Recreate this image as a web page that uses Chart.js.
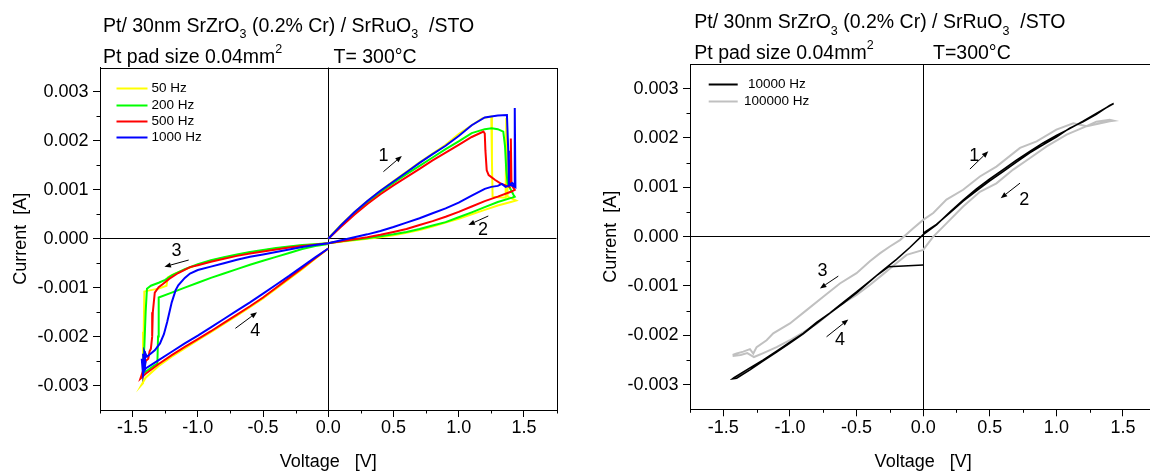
<!DOCTYPE html>
<html>
<head>
<meta charset="utf-8">
<script src="https://cdn.jsdelivr.net/npm/chart.js@4.4.1/dist/chart.umd.min.js"></script>
<style>
html,body{margin:0;padding:0;background:#fff;overflow:hidden;}
#wrap{position:relative;width:1150px;height:474px;overflow:hidden;background:#fff;}
#c1{position:absolute;left:0;top:0;}
#c2{position:absolute;left:590px;top:0;}
</style>
</head>
<body>
<div id="wrap">
<canvas id="c1" width="575" height="474"></canvas>
<canvas id="c2" width="590" height="474"></canvas>
</div>
<script>
// ---------- axis ticks ----------
const voltageTicks = [-1.5, -1.0, -0.5, 0.0, 0.5, 1.0, 1.5];
const currentTicks = [-0.003, -0.002, -0.001, 0, 0.001, 0.002, 0.003];
const voltageMinor = [-1.75, -1.25, -0.75, -0.25, 0.25, 0.75, 1.25, 1.75];
const currentMinor = [-0.0025, -0.0015, -0.0005, 0.0005, 0.0015, 0.0025];

// ---------- left panel series (voltage V, current mA) ----------
const leftLabels = ['50 Hz', '200 Hz', '500 Hz', '1000 Hz'];
const leftColors = ['#FFFF00', '#00FF00', '#FF0000', '#0000FF'];

const v50 = [
  0,0.05,0.1,0.15,0.2,0.3,0.4,0.5,0.6,0.7,0.8,0.9,1.0,1.1,1.18,1.25,
  1.255,1.26,1.3,1.36,1.365,1.37,1.375,1.41,1.44,
  1.4,1.3,1.2,1.1,1.0,0.9,0.8,0.7,0.6,0.5,0.4,0.3,0.2,0.1,0,
  -0.1,-0.2,-0.3,-0.4,-0.5,-0.6,-0.7,-0.8,-0.9,-1.0,-1.1,-1.18,-1.23,-1.24,-1.3,-1.38,-1.41,-1.415,-1.42,-1.43,
  -1.4,-1.3,-1.2,-1.1,-1.0,-0.9,-0.8,-0.7,-0.6,-0.5,-0.4,-0.3,-0.2,-0.1,0
];
const i50 = [
  0,0.15,0.29,0.42,0.54,0.77,0.98,1.18,1.37,1.56,1.74,1.92,2.14,2.32,2.46,2.5,
  1.6,0.86,0.85,0.84,2.45,2.5,0.86,0.82,0.78,
  0.75,0.68,0.59,0.5,0.41,0.33,0.25,0.18,0.12,0.07,0.03,0.0,-0.03,-0.06,-0.09,
  -0.11,-0.14,-0.17,-0.2,-0.24,-0.28,-0.33,-0.39,-0.45,-0.53,-0.63,-0.72,-0.79,-0.96,-1.02,-1.06,-1.08,-1.9,-2.95,-2.98,
  -2.84,-2.6,-2.41,-2.24,-2.07,-1.91,-1.74,-1.57,-1.4,-1.22,-1.02,-0.82,-0.62,-0.41,-0.2
];

const v200 = [
  0,0.1,0.2,0.3,0.4,0.5,0.6,0.7,0.8,0.9,1.0,1.1,1.2,1.253,1.3,1.342,
  1.355,1.365,1.375,1.4,1.42,1.43,
  1.41,1.3,1.2,1.1,1.0,0.9,0.8,0.7,0.6,0.5,0.4,0.3,0.2,0.1,0,
  -0.1,-0.2,-0.3,-0.4,-0.5,-0.6,-0.7,-0.8,-0.9,-1.0,-1.1,-1.2,-1.25,-1.3,-1.36,-1.39,-1.4,-1.41,-1.42,-1.42,
  -1.38,-1.34,-1.31,-1.305,-1.3,
  -1.2,-1.1,-1.0,-0.9,-0.8,-0.7,-0.6,-0.5,-0.4,-0.3,-0.2,-0.1,0
];
const i200 = [
  0,0.27,0.52,0.74,0.95,1.14,1.32,1.49,1.66,1.83,1.99,2.16,2.24,2.26,2.24,2.19,
  1.9,1.4,1.13,1.0,0.9,0.86,
  0.84,0.75,0.645,0.54,0.44,0.34,0.27,0.2,0.14,0.09,0.05,0.01,-0.02,-0.05,-0.09,
  -0.11,-0.13,-0.16,-0.19,-0.23,-0.27,-0.32,-0.38,-0.44,-0.52,-0.62,-0.75,-0.84,-0.9,-0.96,-1.02,-1.5,-2.2,-2.6,-2.75,
  -2.68,-2.6,-2.55,-2.0,-1.2,
  -1.1,-1.0,-0.9,-0.8,-0.71,-0.62,-0.53,-0.45,-0.37,-0.29,-0.21,-0.15,-0.11
];

const v500 = [
  0,0.1,0.2,0.3,0.4,0.5,0.6,0.7,0.8,0.9,1.0,1.1,1.19,
  1.2,1.205,1.215,1.23,1.28,1.32,1.39,1.395,1.4,1.405,1.43,
  1.4,1.3,1.2,1.1,1.0,0.9,0.8,0.7,0.6,0.5,0.4,0.3,0.2,0.1,0,
  -0.1,-0.2,-0.3,-0.4,-0.5,-0.6,-0.7,-0.8,-0.9,-1.0,-1.06,-1.15,-1.22,-1.27,-1.3,-1.33,-1.345,-1.35,-1.36,-1.37,-1.38,-1.4,-1.42,-1.44,
  -1.4,-1.3,-1.2,-1.1,-1.0,-0.9,-0.8,-0.7,-0.6,-0.5,-0.4,-0.3,-0.2,-0.1,0
];
const i500 = [
  0,0.25,0.49,0.71,0.91,1.09,1.26,1.43,1.6,1.76,1.92,2.08,2.19,
  2.15,1.8,1.4,1.3,1.2,1.13,1.06,1.6,2.05,1.1,1.0,
  0.96,0.86,0.77,0.66,0.55,0.45,0.36,0.28,0.2,0.14,0.08,0.03,-0.01,-0.05,-0.09,
  -0.12,-0.15,-0.18,-0.22,-0.26,-0.3,-0.35,-0.41,-0.47,-0.54,-0.58,-0.7,-0.82,-0.93,-0.99,-1.1,-1.5,-2.0,-2.25,-2.3,-2.45,-2.5,-2.7,-2.86,
  -2.76,-2.56,-2.38,-2.21,-2.05,-1.89,-1.72,-1.55,-1.38,-1.2,-1.0,-0.8,-0.6,-0.4,-0.2
];

const v1000 = [
  0,0.05,0.1,0.2,0.3,0.4,0.5,0.6,0.7,0.8,0.9,1.0,1.1,1.2,1.3,1.37,
  1.38,1.385,1.41,1.43,1.43,1.435,1.4,1.36,1.33,1.3,
  1.25,1.2,1.1,1.0,0.9,0.8,0.7,0.6,0.5,0.4,0.3,0.2,0.1,0,
  -0.1,-0.2,-0.3,-0.4,-0.5,-0.6,-0.7,-0.8,-0.9,-1.0,-1.06,-1.1,-1.15,-1.17,-1.2,-1.235,-1.26,-1.29,-1.33,-1.39,
  -1.41,-1.405,-1.42,-1.41,-1.43,-1.42,-1.4,-1.41,-1.4,
  -1.3,-1.2,-1.1,-1.0,-0.9,-0.8,-0.7,-0.6,-0.5,-0.4,-0.3,-0.2,-0.1,0
];
const i1000 = [
  0,0.14,0.28,0.54,0.77,0.98,1.17,1.36,1.55,1.73,1.9,2.1,2.32,2.48,2.52,2.53,
  1.8,1.1,1.14,1.1,2.67,1.05,1.1,1.06,1.12,1.08,
  1.06,1.02,0.88,0.74,0.62,0.52,0.42,0.33,0.24,0.16,0.09,0.03,-0.03,-0.09,
  -0.13,-0.17,-0.22,-0.27,-0.32,-0.37,-0.43,-0.5,-0.57,-0.64,-0.71,-0.8,-0.95,-1.05,-1.3,-1.7,-1.95,-2.14,-2.28,-2.41,
  -2.3,-2.6,-2.35,-2.72,-2.45,-2.78,-2.5,-2.7,-2.65,
  -2.48,-2.31,-2.14,-1.98,-1.81,-1.64,-1.47,-1.3,-1.12,-0.94,-0.76,-0.57,-0.38,-0.2
];

// ---------- right panel series (voltage V, current mA) ----------
const rightLabels = ['10000 Hz', '100000 Hz'];
const rightColors = ['#000000', '#C0C0C0'];

const v10k = [
  0,-0.26,-0.35,-0.5,-0.6,-0.7,-0.8,-0.9,-1.0,-1.1,-1.2,-1.3,-1.4,-1.43,
  -1.42,-1.3,-1.2,-1.1,-1.0,-0.9,-0.8,-0.7,-0.6,-0.5,-0.4,-0.3,-0.2,-0.1,0,0.1,0.2,0.3,0.4,0.5,0.6,0.7,0.8,0.9,1.0,1.1,1.2,1.3,1.43,
  1.4,1.3,1.2,1.1,1.0,0.9,0.8,0.7,0.6,0.5,0.4,0.3,0.2,0.1,0
];
const i10k = [
  -0.575,-0.61,-0.79,-1.14,-1.35,-1.55,-1.76,-1.97,-2.16,-2.34,-2.52,-2.7,-2.87,-2.88,
  -2.86,-2.66,-2.5,-2.32,-2.14,-1.96,-1.74,-1.55,-1.33,-1.12,-0.9,-0.68,-0.46,-0.22,0.04,0.24,0.5,0.74,0.97,1.17,1.36,1.55,1.73,1.9,2.05,2.19,2.34,2.5,2.7,
  2.66,2.48,2.33,2.2,2.02,1.86,1.7,1.51,1.32,1.13,0.93,0.72,0.48,0.25,0.07
];

const v100k = [
  -1.43,-1.4,-1.35,-1.3,-1.275,-1.25,-1.175,-1.125,-1.0,-0.875,-0.75,-0.625,-0.5,-0.4,-0.325,-0.25,-0.174,-0.074,0,0.076,0.175,0.3,0.426,0.55,0.727,0.852,1.0,1.127,1.227,1.3,1.4,1.43,
  1.4,1.227,1.077,0.927,0.8,0.676,0.55,0.426,0.3,0.175,0.076,0,-0.124,-0.22,-0.3,-0.4,-0.5,-0.625,-0.7,-0.8,-0.9,-1.0,-1.1,-1.2,-1.27,-1.32,-1.37,-1.43
];
const i100k = [
  -2.4,-2.37,-2.33,-2.28,-2.37,-2.24,-2.1,-1.96,-1.76,-1.49,-1.22,-0.95,-0.74,-0.5,-0.34,-0.2,-0.07,0.17,0.34,0.48,0.75,0.95,1.22,1.42,1.8,1.93,2.17,2.3,2.24,2.33,2.37,2.35,
  2.34,2.24,2.07,1.83,1.59,1.36,1.08,0.91,0.61,0.27,0.0,-0.27,-0.37,-0.58,-0.76,-0.98,-1.18,-1.39,-1.55,-1.77,-1.94,-2.1,-2.24,-2.36,-2.44,-2.36,-2.4,-2.42
];

// ---------- arrow annotations (voltage V, current mA) ----------
const leftNoteText = ['1', '2', '3', '4'];
const leftNotePos  = [[0.423, 1.70], [1.187, 0.18], [-1.164, -0.25], [-0.559, -1.88]];
const leftArrowFrom = [[0.423, 1.371], [1.227, 0.465], [-1.070, -0.435], [-0.712, -1.831]];
const leftArrowTo   = [[0.564, 1.692], [1.074, 0.281], [-1.256, -0.572], [-0.546, -1.504]];

const rightNoteText = ['1', '2', '3', '4'];
const rightNotePos  = [[0.384, 1.63], [0.758, 0.746], [-0.755, -0.69], [-0.625, -2.1]];
const rightArrowFrom = [[0.351, 1.37], [0.727, 1.085], [-0.637, -0.80], [-0.725, -2.03]];
const rightArrowTo   = [[0.489, 1.73], [0.582, 0.78], [-0.775, -1.05], [-0.562, -1.68]];

// ---------- helpers ----------
const FONT = '"Liberation Sans", Arial, Helvetica, sans-serif';
Chart.defaults.font.family = FONT;
Chart.defaults.color = '#000';

function pts(v, i) { return v.map((x, k) => ({ x: x, y: i[k] / 1000 })); }

function framePlugin() {
  return {
    id: 'frame',
    afterDatasetsDraw(chart) {
      const ctx = chart.ctx, a = chart.chartArea;
      const sx = chart.scales.x, sy = chart.scales.y;
      ctx.save();
      ctx.strokeStyle = '#000';
      ctx.lineWidth = 1;
      ctx.strokeRect(Math.round(a.left) + 0.5, Math.round(a.top) + 0.5,
                     Math.round(a.right) - Math.round(a.left), Math.round(a.bottom) - Math.round(a.top));
      ctx.beginPath();
      voltageMinor.forEach(v => {
        const px = Math.round(sx.getPixelForValue(v)) + 0.5;
        ctx.moveTo(px, a.bottom); ctx.lineTo(px, a.bottom + 3.5);
      });
      currentMinor.forEach(v => {
        const py = Math.round(sy.getPixelForValue(v)) + 0.5;
        ctx.moveTo(a.left, py); ctx.lineTo(a.left - 3.5, py);
      });
      ctx.stroke();
      ctx.restore();
    }
  };
}

function titlePlugin(cfg) {
  return {
    id: 'titleBlock',
    afterDraw(chart) {
      const ctx = chart.ctx, a = chart.chartArea;
      ctx.save();
      ctx.fillStyle = '#000';
      ctx.textAlign = 'left';
      ctx.textBaseline = 'alphabetic';
      cfg.lines.forEach(line => {
        let x = a.left + line.dx;
        const y = a.top + line.dy;
        line.parts.forEach(p => {
          const small = p[1] !== '';
          ctx.font = (small ? 12.5 : 19.5) + 'px ' + FONT;
          const yy = p[1] === 'sub' ? y + 6.5 : (p[1] === 'sup' ? y - 10 : y);
          ctx.fillText(p[0], x, yy);
          x += ctx.measureText(p[0]).width;
        });
      });
      ctx.restore();
    }
  };
}

function legendPlugin(cfg) {
  return {
    id: 'legendBox',
    afterDraw(chart) {
      const ctx = chart.ctx, a = chart.chartArea;
      ctx.save();
      ctx.font = '13.5px ' + FONT;
      ctx.textBaseline = 'middle';
      ctx.textAlign = 'left';
      chart.data.datasets.forEach((ds, k) => {
        const y = Math.round(a.top + cfg.y0 + cfg.dy * k) + 0.5;
        ctx.strokeStyle = ds.borderColor;
        ctx.lineWidth = 2;
        ctx.beginPath();
        ctx.moveTo(a.left + cfg.x0, y);
        ctx.lineTo(a.left + cfg.x1, y);
        ctx.stroke();
        ctx.fillStyle = '#000';
        ctx.fillText(ds.label, a.left + cfg.tx + (cfg.indent[k] || 0), y);
      });
      ctx.restore();
    }
  };
}

function notesPlugin(texts, pos, from, to) {
  return {
    id: 'notes',
    afterDatasetsDraw(chart) {
      const ctx = chart.ctx, sx = chart.scales.x, sy = chart.scales.y;
      const P = p => [sx.getPixelForValue(p[0]), sy.getPixelForValue(p[1] / 1000)];
      ctx.save();
      ctx.fillStyle = '#000';
      ctx.strokeStyle = '#000';
      ctx.lineWidth = 1;
      ctx.font = '18px ' + FONT;
      ctx.textAlign = 'center';
      ctx.textBaseline = 'middle';
      texts.forEach((t, k) => {
        const c = P(pos[k]);
        ctx.fillText(t, c[0], c[1]);
        const s = P(from[k]), e = P(to[k]);
        const ang = Math.atan2(e[1] - s[1], e[0] - s[0]);
        const L = 6.5, W = 2.6;
        const bx = e[0] - L * Math.cos(ang), by = e[1] - L * Math.sin(ang);
        ctx.beginPath();
        ctx.moveTo(s[0], s[1]);
        ctx.lineTo(bx, by);
        ctx.stroke();
        ctx.beginPath();
        ctx.moveTo(e[0], e[1]);
        ctx.lineTo(bx + W * Math.sin(ang), by - W * Math.cos(ang));
        ctx.lineTo(bx - W * Math.sin(ang), by + W * Math.cos(ang));
        ctx.closePath();
        ctx.fill();
      });
      ctx.restore();
    }
  };
}

function makeChart(id, datasets, lay, extraPlugins) {
  const zeroColor = c => (c.tick && c.tick.value === 0) ? '#000' : 'rgba(0,0,0,0)';
  return new Chart(document.getElementById(id), {
    type: 'scatter',
    data: { datasets: datasets },
    options: {
      responsive: false,
      animation: false,
      events: [],
      layout: { padding: { left: 0, right: lay.padRight, top: lay.top, bottom: 0 } },
      plugins: { legend: { display: false }, tooltip: { enabled: false } },
      scales: {
        x: {
          type: 'linear', min: -1.75, max: 1.75,
          afterBuildTicks: s => { s.ticks = voltageTicks.map(v => ({ value: v })); },
          afterFit: s => { s.height = 474 - lay.bottom; },
          ticks: { callback: v => Number(v).toFixed(1), font: { size: 18, lineHeight: 1 }, color: '#000', padding: 2.5, maxRotation: 0, autoSkip: false },
          grid: { drawOnChartArea: true, color: zeroColor, tickColor: '#000', tickLength: 7, lineWidth: 1 },
          border: { display: true, color: '#000', width: 1 },
          title: { display: true, text: 'Voltage   [V]', font: { size: 18 }, color: '#000', padding: { top: 0, bottom: 1 } }
        },
        y: {
          type: 'linear', min: -0.0035, max: 0.0035,
          afterBuildTicks: s => { s.ticks = currentTicks.map(v => ({ value: v })); },
          afterFit: s => { s.width = 100; },
          ticks: { callback: v => Number(v).toFixed(3), font: { size: 18, lineHeight: 1 }, color: '#000', padding: 4.5, autoSkip: false },
          grid: { drawOnChartArea: true, color: zeroColor, tickColor: '#000', tickLength: 7, lineWidth: 1 },
          border: { display: true, color: '#000', width: 1 },
          title: { display: true, text: 'Current  [A]', font: { size: 18 }, color: '#000', padding: { top: 10, bottom: 0 } }
        }
      }
    },
    plugins: [framePlugin()].concat(extraPlugins)
  });
}

const lineDs = (label, color, data, order, width) => ({
  label: label, data: data, showLine: true, borderColor: color, backgroundColor: color,
  borderWidth: width, pointRadius: 0, tension: 0, order: order
});

// ---------- left chart ----------
makeChart('c1', [
  lineDs(leftLabels[0], leftColors[0], pts(v50, i50), 4, 2),
  lineDs(leftLabels[1], leftColors[1], pts(v200, i200), 3, 2),
  lineDs(leftLabels[2], leftColors[2], pts(v500, i500), 2, 2),
  lineDs(leftLabels[3], leftColors[3], pts(v1000, i1000), 1, 2)
], { padRight: 18.5, top: 67.5, bottom: 410 }, [
  titlePlugin({ lines: [
    { dx: 3, dy: -35.8, parts: [['Pt/ 30nm SrZrO', ''], ['3', 'sub'], [' (0.2% Cr) / SrRuO', ''], ['3', 'sub'], ['  /STO', '']] },
    { dx: 3, dy: -4.8, parts: [['Pt pad size 0.04mm', ''], ['2', 'sup']] },
    { dx: 233.5, dy: -4.8, parts: [['T= 300°C', '']] }
  ] }),
  legendPlugin({ y0: 20.8, dy: 16.35, x0: 16.5, x1: 47.5, tx: 51.5, indent: [0, 0, 0, 0] }),
  notesPlugin(leftNoteText, leftNotePos, leftArrowFrom, leftArrowTo)
]);

// ---------- right chart ----------
makeChart('c2', [
  lineDs(rightLabels[0], rightColors[0], pts(v10k, i10k), 1, 1.6),
  lineDs(rightLabels[1], rightColors[1], pts(v100k, i100k), 2, 2)
], { padRight: 23.7, top: 64, bottom: 409.3 }, [
  titlePlugin({ lines: [
    { dx: 4.3, dy: -35.7, parts: [['Pt/ 30nm SrZrO', ''], ['3', 'sub'], [' (0.2% Cr) / SrRuO', ''], ['3', 'sub'], ['  /STO', '']] },
    { dx: 4.3, dy: -5, parts: [['Pt pad size 0.04mm', ''], ['2', 'sup']] },
    { dx: 243, dy: -5, parts: [['T=300°C', '']] }
  ] }),
  legendPlugin({ y0: 20.3, dy: 16.4, x0: 18.7, x1: 47.7, tx: 54, indent: [4, 0] }),
  notesPlugin(rightNoteText, rightNotePos, rightArrowFrom, rightArrowTo)
]);
</script>
</body>
</html>
